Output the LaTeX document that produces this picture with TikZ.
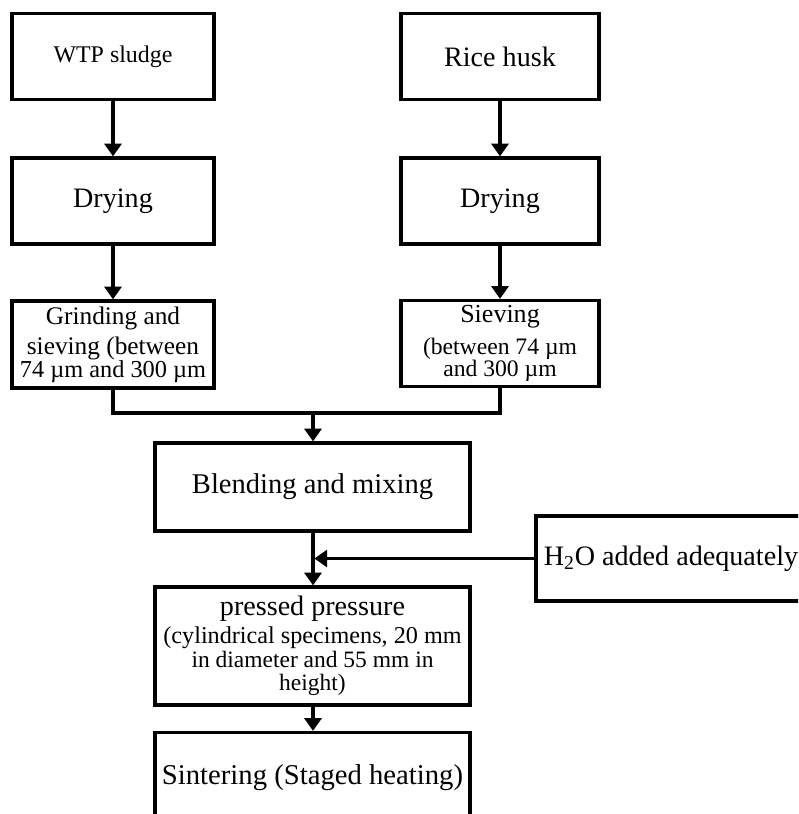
\documentclass[tikz,border=0pt]{standalone}
\usepackage{fontspec}
\setmainfont{Liberation Serif}
\usetikzlibrary{arrows.meta}

\begin{document}
\begin{tikzpicture}[x=0.025cm, y=-0.025cm,
    block/.style={rectangle, draw, line width=2.3pt, align=center, inner sep=0pt, minimum width=5.05cm, minimum height=2.15cm},
    wide/.style={block, minimum width=7.875cm, minimum height=2.2cm},
    arrow/.style={-{Triangle[length=9pt,width=12pt]}, line width=2.3pt},
    line/.style={line width=2.3pt}]

\useasboundingbox (0,0) rectangle (798,814);
\clip (0,0) rectangle (798,814);

% Left column
\node[block, font=\fontsize{17}{20}\selectfont] (sludge) at (113,56.5) {WTP sludge};
\node[block, font=\fontsize{20}{24}\selectfont] (dryL) at (113,201) {Drying};
\node[block, minimum height=2.175cm, font=\fontsize{18}{21.3}\selectfont] (grind) at (113,344.5)
    {Grinding and\\ sieving (between\\[-5pt] {\fontsize{17.3}{16}\selectfont 74 µm and 300 µm}};

% Right column
\node[block, minimum width=4.95cm, font=\fontsize{20}{24}\selectfont] (husk) at (500,56.5) {Rice husk};
\node[block, minimum width=4.95cm, font=\fontsize{20}{24}\selectfont] (dryR) at (500,201) {Drying};
\node[block, minimum width=4.95cm, font=\fontsize{16.8}{15}\selectfont] (sieve) at (500,343.5)
    {{\fontsize{18.5}{21}\selectfont Sieving}\\[6pt] (between 74 µm\\ and 300 µm};

% Lower blocks
\coordinate (merge) at (313,413);
\node[wide, font=\fontsize{20.3}{24}\selectfont] (blend) at (312.5,487) {Blending and mixing};
\node[wide, minimum height=2.95cm, font=\fontsize{16.7}{16.8}\selectfont] (press) at (312.5,646)
    {{\fontsize{20}{20}\selectfont pressed pressure}\\[3pt] {\fontsize{17.2}{17}\selectfont (cylindrical specimens, 20 mm}\\ in diameter and 55 mm in\\ height)};
\node[wide, minimum height=2.25cm, font=\fontsize{20.4}{24}\selectfont] (sinter) at (312.5,777.5) {Sintering (Staged heating)};
\node[block, minimum width=6.75cm, minimum height=2.125cm, font=\fontsize{20}{24}\selectfont] (water) at (671,558.5)
    {H\textsubscript{2}O added adequately};

% Connections
\draw[arrow] (sludge) -- (dryL);
\draw[arrow] (dryL) -- (grind);
\draw[arrow] (husk) -- (dryR);
\draw[arrow] (dryR) -- (sieve);
\draw[line] (grind) |- (merge) -| (sieve);
\draw[arrow] (merge) -- (blend.north -| merge);
\draw[arrow] (blend.south -| merge) -- (press.north -| merge);
\draw[arrow] (water) -- ([xshift=1pt]water -| merge);
\draw[arrow] (press.south -| merge) -- (sinter.north -| merge);
\end{tikzpicture}
\end{document}
